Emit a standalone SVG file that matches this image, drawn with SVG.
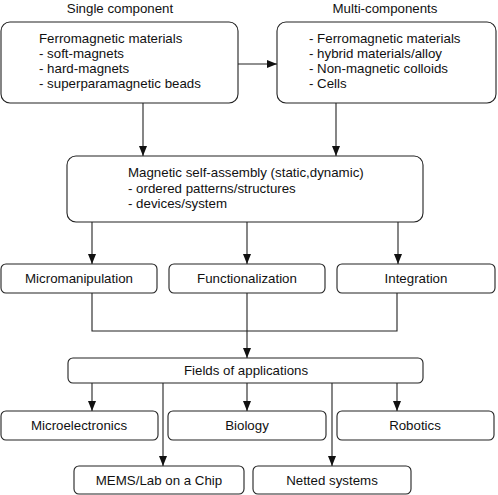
<svg xmlns="http://www.w3.org/2000/svg" width="498" height="495" viewBox="0 0 498 495">
<style>
.box{fill:#fff;stroke:#222;stroke-width:1.1}
.t{font-family:"Liberation Sans",Arial,sans-serif;font-size:13.3px;fill:#111}
.m{text-anchor:middle}
.c{fill:none;stroke:#222;stroke-width:1.1}
</style>
<defs>
<marker id="ah" viewBox="0 0 10 8" refX="10" refY="4" markerWidth="10" markerHeight="8" markerUnits="userSpaceOnUse" orient="auto">
<path d="M0,0 L10,4 L0,8 Z" fill="#111"/>
</marker>
</defs>
<rect width="498" height="495" fill="#fff"/>
<text class="t m" x="120" y="13">Single component</text>
<text class="t m" x="385" y="13">Multi-components</text>
<g id="connectors">
<path class="c" d="M238,64 H277" marker-end="url(#ah)"/>
<path class="c" d="M143,103 V156" marker-end="url(#ah)"/>
<path class="c" d="M336,103 V156" marker-end="url(#ah)"/>
<path class="c" d="M92,222 V264" marker-end="url(#ah)"/>
<path class="c" d="M247,222 V264" marker-end="url(#ah)"/>
<path class="c" d="M398,222 V264" marker-end="url(#ah)"/>
<path class="c" d="M92,293 V331 H397 V293"/>
<path class="c" d="M247,293 V358" marker-end="url(#ah)"/>
<path class="c" d="M92,383 V411" marker-end="url(#ah)"/>
<path class="c" d="M247,383 V411" marker-end="url(#ah)"/>
<path class="c" d="M397,383 V411" marker-end="url(#ah)"/>
<path class="c" d="M163,383 V466" marker-end="url(#ah)"/>
<path class="c" d="M332,383 V466" marker-end="url(#ah)"/>
</g>
<g id="single">
<rect class="box" x="1" y="22" width="237" height="81" rx="9"/>
<text class="t" x="39" y="43">Ferromagnetic materials</text>
<text class="t" x="39" y="58">- soft-magnets</text>
<text class="t" x="39" y="73">- hard-magnets</text>
<text class="t" x="39" y="88">- superparamagnetic beads</text>
</g>
<g id="multi">
<rect class="box" x="277" y="22" width="219" height="81" rx="9"/>
<text class="t" x="309" y="43">- Ferromagnetic materials</text>
<text class="t" x="309" y="58">- hybrid materials/alloy</text>
<text class="t" x="309" y="73">- Non-magnetic colloids</text>
<text class="t" x="309" y="88">- Cells</text>
</g>
<g id="assembly">
<rect class="box" x="67" y="156" width="356" height="66" rx="9"/>
<text class="t" x="128" y="177">Magnetic self-assembly (static,dynamic)</text>
<text class="t" x="128" y="193">- ordered patterns/structures</text>
<text class="t" x="128" y="208">- devices/system</text>
</g>
<g id="micromanipulation">
<rect class="box" x="1" y="264" width="156" height="29" rx="5"/>
<text class="t m" x="79" y="283">Micromanipulation</text>
</g>
<g id="functionalization">
<rect class="box" x="169" y="264" width="156" height="29" rx="5"/>
<text class="t m" x="247" y="283">Functionalization</text>
</g>
<g id="integration">
<rect class="box" x="337" y="264" width="158" height="29" rx="5"/>
<text class="t m" x="416" y="283">Integration</text>
</g>
<g id="fields">
<rect class="box" x="68" y="358" width="355" height="25" rx="5"/>
<text class="t m" x="246" y="375">Fields of applications</text>
</g>
<g id="microelectronics">
<rect class="box" x="1" y="411" width="157" height="29" rx="5"/>
<text class="t m" x="79" y="430">Microelectronics</text>
</g>
<g id="biology">
<rect class="box" x="168" y="411" width="158" height="29" rx="5"/>
<text class="t m" x="247" y="430">Biology</text>
</g>
<g id="robotics">
<rect class="box" x="337" y="411" width="157" height="29" rx="5"/>
<text class="t m" x="415" y="430">Robotics</text>
</g>
<g id="mems">
<rect class="box" x="74" y="466" width="170" height="28" rx="5"/>
<text class="t m" x="159" y="485">MEMS/Lab on a Chip</text>
</g>
<g id="netted">
<rect class="box" x="253" y="466" width="158" height="28" rx="5"/>
<text class="t m" x="332" y="485">Netted systems</text>
</g>
</svg>
